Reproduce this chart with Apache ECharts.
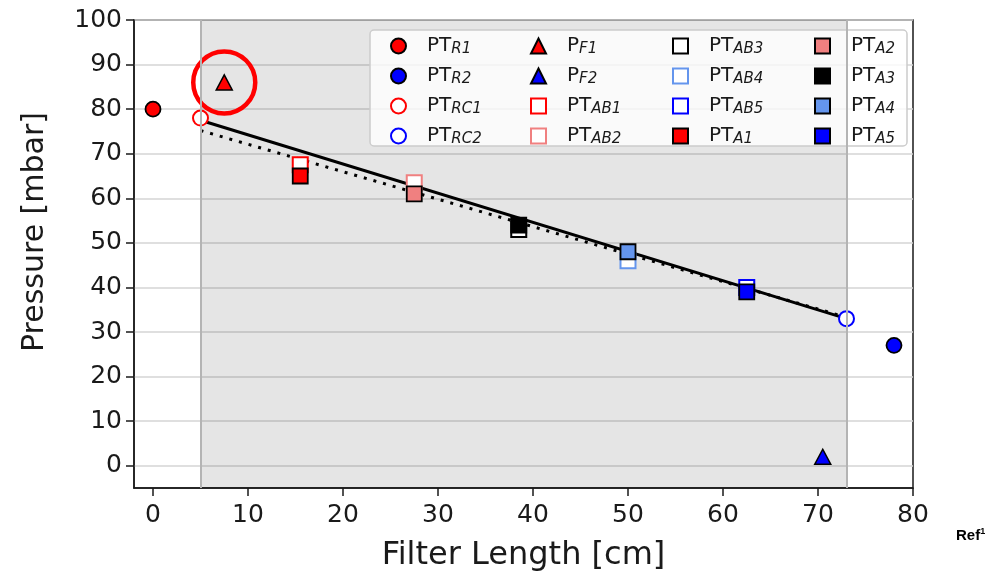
<!DOCTYPE html>
<html lang="en">
<head>
	<meta charset="UTF-8">
	<script src="https://cdn.jsdelivr.net/npm/echarts@6/dist/echarts.min.js"></script>
	<title>Filter Length vs Pressure</title>
</head>
<body style="margin:0;">
<div id="chart" style="width:1002px;height:577px;"></div>
<script type="text/javascript">
	// data
	var names = ['PT_R1', 'PT_R2', 'PT_RC1', 'PT_RC2', 'P_F1', 'P_F2',
		'PT_AB1', 'PT_AB2', 'PT_AB3', 'PT_AB4', 'PT_AB5',
		'PT_A1', 'PT_A2', 'PT_A3', 'PT_A4', 'PT_A5'];
	var lengths = [0, 78, 5, 73, 7.5, 70.5, 15.5, 27.5, 38.5, 50, 62.5, 15.5, 27.5, 38.5, 50, 62.5];
	var pressures = [80, 27, 78, 33, 86, 2, 67.5, 63.5, 53, 46, 40, 65, 61, 54, 48, 39];
	var fitX = [5, 73];
	var fitSolid = [77.5, 33];
	var fitDotted = [75.2, 33.3];
	var shadeRange = [5, 73];
	var highlighted = 'P_F1';
	var xTicks = [0, 10, 20, 30, 40, 50, 60, 70, 80];
	var yTicks = [0, 10, 20, 30, 40, 50, 60, 70, 80, 90, 100];

	// marker styles: [symbol, fill, edge, edgeWidth]
	var markerStyle = {
		PT_R1: ['circle', '#ff0000', '#000', 1.8],
		PT_R2: ['circle', '#0000ff', '#000', 1.8],
		PT_RC1: ['circle', '#ffffff', '#ff0000', 2],
		PT_RC2: ['circle', '#ffffff', '#0000ff', 2],
		P_F1: ['triangle', '#ff0000', '#000', 1.5],
		P_F2: ['triangle', '#0000ff', '#000', 1.5],
		PT_AB1: ['rect', '#ffffff', '#ff0000', 2],
		PT_AB2: ['rect', '#ffffff', '#f08080', 2],
		PT_AB3: ['rect', '#ffffff', '#000000', 2],
		PT_AB4: ['rect', '#ffffff', '#6495ed', 2],
		PT_AB5: ['rect', '#ffffff', '#0000ff', 2],
		PT_A1: ['rect', '#ff0000', '#000', 1.8],
		PT_A2: ['rect', '#f08080', '#000', 1.8],
		PT_A3: ['rect', '#000000', '#000', 1.8],
		PT_A4: ['rect', '#6495ed', '#000', 1.8],
		PT_A5: ['rect', '#0000ff', '#000', 1.8]
	};

	var font = 'DejaVu Sans';
	var ink = '#1a1a1a';
	var chart = echarts.init(document.getElementById('chart'));

	var series = [
		{//拟合线 + 阴影区
			type: 'line',
			name: 'fit',
			data: [[fitX[0], fitSolid[0]], [fitX[1], fitSolid[1]]],
			showSymbol: false,
			lineStyle: {color: '#000', width: 3},
			silent: true,
			markArea: {
				silent: true,
				itemStyle: {color: 'rgba(0,0,0,0.1)'},
				data: [[{xAxis: shadeRange[0]}, {xAxis: shadeRange[1]}]]
			},
			markLine: {
				silent: true,
				symbol: 'none',
				label: {show: false},
				lineStyle: {color: '#b4b4b4', width: 2, type: 'solid'},
				data: [{xAxis: shadeRange[0]}, {xAxis: shadeRange[1]}]
			}
		},
		{
			type: 'line',
			name: 'fit2',
			data: [[fitX[0], fitDotted[0]], [fitX[1], fitDotted[1]]],
			showSymbol: false,
			silent: true,
			lineStyle: {color: '#000', width: 3, type: [3, 7]}
		}
	];

	names.forEach(function (n, i) {
		var s = markerStyle[n];
		series.push({
			type: 'scatter',
			name: n,
			symbol: s[0],
			symbolSize: s[0] === 'triangle' ? [16, 15] : 15,
			itemStyle: {color: s[1], borderColor: s[2], borderWidth: s[3], opacity: 1},
			data: [[lengths[i], pressures[i]]],
			z: 3
		});
	});

	// 红圈标注
	var hi = names.indexOf(highlighted);
	series.push({
		type: 'scatter',
		name: 'ring',
		symbol: 'circle',
		symbolSize: 62,
		silent: true,
		itemStyle: {color: 'rgba(0,0,0,0)', borderColor: '#ff0000', borderWidth: 4.5, opacity: 1},
		data: [[lengths[hi], pressures[hi]]],
		z: 4
	});

	function legendLabel(n) {
		var p = n.split('_');
		return '{m|' + p[0] + '}{s|' + p[1] + '}';
	}

	var legendCols = [390, 530, 672, 814];
	var legends = legendCols.map(function (x, c) {
		return {
			data: names.slice(c * 4, c * 4 + 4),
			orient: 'vertical',
			left: x,
			top: 33,
			padding: 0,
			itemGap: 6,
			itemWidth: 15,
			itemHeight: 15,
			selectedMode: false,
			formatter: legendLabel,
			textStyle: {
				fontFamily: font,
				color: ink,
				rich: {
					m: {fontFamily: font, fontSize: 20, lineHeight: 22, padding: [0, 0, 0, 16], color: ink},
					s: {fontFamily: font, fontSize: 15, fontStyle: 'italic', lineHeight: 15, verticalAlign: 'bottom', padding: [9, 0, 0, 0], color: ink}
				}
			},
			z: 6
		};
	});

	var option = {
		animation: false,
		backgroundColor: '#fff',
		grid: {left: 134, right: 89, top: 20, bottom: 89, show: true, borderColor: ink, borderWidth: 1.5, backgroundColor: 'transparent'},
		xAxis: {
			type: 'value',
			min: -2,
			max: 80,
			name: 'Filter Length [cm]',
			nameLocation: 'middle',
			nameGap: 52,
			nameTextStyle: {fontFamily: font, fontSize: 32, color: ink},
			axisLine: {show: true, onZero: false, lineStyle: {color: ink, width: 1.5}},
			axisTick: {show: true, length: 8, lineStyle: {color: ink, width: 1.5}, customValues: xTicks},
			axisLabel: {fontFamily: font, fontSize: 25, color: ink, margin: 15, customValues: xTicks},
			splitLine: {show: false}
		},
		yAxis: {
			type: 'value',
			min: -5,
			max: 100,
			axisLine: {show: true, onZero: false, lineStyle: {color: ink, width: 1.5}},
			axisTick: {show: true, length: 8, lineStyle: {color: ink, width: 1.5}, customValues: yTicks},
			axisLabel: {fontFamily: font, fontSize: 25, color: ink, margin: 12, customValues: yTicks},
			splitLine: {show: true, lineStyle: {color: '#d4d4d4', width: 1.5}}
		},
		legend: legends,
		graphic: [
			{//图例外框
				type: 'rect',
				shape: {x: 370, y: 30, width: 537, height: 116, r: 4},
				style: {fill: 'rgba(255,255,255,0.8)', stroke: '#cccccc', lineWidth: 1.5},
				z: 5
			},
			{
				type: 'text',
				x: 35,
				y: 232,
				rotation: Math.PI / 2,
				style: {text: 'Pressure [mbar]', font: '30px "DejaVu Sans"', fill: ink, align: 'center', verticalAlign: 'middle'}
			},
			{
				type: 'text',
				x: 956,
				y: 527,
				style: {
					text: '{a|Ref}{b|1}',
					rich: {
						a: {fontFamily: 'Liberation Sans', fontWeight: 'bold', fontSize: 15, lineHeight: 17, fill: '#000'},
						b: {fontFamily: 'Liberation Sans', fontWeight: 'bold', fontSize: 9, lineHeight: 9, verticalAlign: 'top', fill: '#000'}
					}
				}
			}
		],
		series: series
	};
	chart.setOption(option);
</script>
</body>
</html>
